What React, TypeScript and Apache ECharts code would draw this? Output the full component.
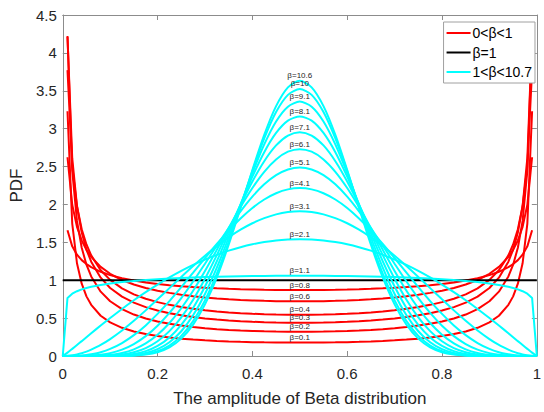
import { useEffect, useRef } from "react";
import * as echarts from "echarts";

// Symmetric Beta(β, β) densities. Each curve is listed on the left half of
// the x range (0 … 0.5); the right half is its mirror image about x = 0.5.
const X_HALF = [
  0, 0.01, 0.02, 0.03, 0.04, 0.05, 0.06, 0.08, 0.1, 0.125, 0.15, 0.175, 0.2,
  0.225, 0.25, 0.275, 0.3, 0.325, 0.35, 0.375, 0.4, 0.425, 0.45, 0.475, 0.5,
];

// 0 < β < 1 (unbounded at the edges, so nothing at x = 0)
const RED_BETAS = ["0.1", "0.2", "0.3", "0.4", "0.6", "0.8"];
const PDF_B01 = [null, 3.23, 1.747, 1.224, 0.954, 0.787, 0.675, 0.531, 0.443, 0.372, 0.324, 0.29, 0.264, 0.244, 0.229, 0.217, 0.207, 0.199, 0.192, 0.187, 0.183, 0.18, 0.178, 0.177, 0.177];
const PDF_B02 = [null, 4.224, 2.446, 1.783, 1.428, 1.205, 1.05, 0.849, 0.722, 0.618, 0.547, 0.495, 0.456, 0.426, 0.402, 0.382, 0.367, 0.354, 0.344, 0.336, 0.33, 0.325, 0.322, 0.32, 0.319];
const PDF_B03 = [null, 4.209, 2.61, 1.979, 1.63, 1.404, 1.245, 1.034, 0.898, 0.783, 0.704, 0.645, 0.6, 0.565, 0.537, 0.515, 0.496, 0.481, 0.469, 0.459, 0.452, 0.446, 0.442, 0.44, 0.439];
const PDF_B04 = [null, 3.773, 2.504, 1.976, 1.673, 1.472, 1.328, 1.132, 1.004, 0.893, 0.814, 0.756, 0.711, 0.675, 0.646, 0.623, 0.604, 0.588, 0.575, 0.565, 0.557, 0.551, 0.547, 0.544, 0.544];
const PDF_B06 = [null, 2.623, 1.996, 1.704, 1.525, 1.401, 1.308, 1.176, 1.085, 1.003, 0.944, 0.898, 0.862, 0.833, 0.809, 0.789, 0.773, 0.76, 0.749, 0.74, 0.733, 0.728, 0.724, 0.722, 0.721];
const PDF_B08 = [null, 1.659, 1.447, 1.337, 1.265, 1.213, 1.172, 1.111, 1.067, 1.026, 0.995, 0.971, 0.951, 0.935, 0.921, 0.91, 0.901, 0.893, 0.886, 0.881, 0.877, 0.874, 0.872, 0.87, 0.87];
const RED_PDF = [PDF_B01, PDF_B02, PDF_B03, PDF_B04, PDF_B06, PDF_B08];

// β = 1 (uniform)
const PDF_B1 = [1, 1, 1, 1, 1, 1, 1, 1, 1, 1, 1, 1, 1, 1, 1, 1, 1, 1, 1, 1, 1, 1, 1, 1, 1];

// 1 < β < 10.7
const CYAN_BETAS = ["1.1", "2.1", "3.1", "4.1", "5.1", "6.1", "7.1", "8.1", "9.1", "10", "10.6"];
const PDF_B1_1 = [0, 0.767, 0.822, 0.855, 0.879, 0.898, 0.913, 0.938, 0.957, 0.976, 0.991, 1.003, 1.014, 1.022, 1.03, 1.036, 1.042, 1.046, 1.05, 1.053, 1.056, 1.057, 1.059, 1.06, 1.06];
const PDF_B2_1 = [0, 0.044, 0.094, 0.145, 0.196, 0.248, 0.3, 0.402, 0.501, 0.621, 0.735, 0.843, 0.943, 1.037, 1.123, 1.202, 1.272, 1.335, 1.39, 1.436, 1.474, 1.503, 1.525, 1.537, 1.541];
const PDF_B3_1 = [0, 0.002, 0.009, 0.021, 0.037, 0.058, 0.084, 0.146, 0.223, 0.336, 0.464, 0.602, 0.748, 0.896, 1.043, 1.187, 1.323, 1.45, 1.566, 1.667, 1.752, 1.819, 1.869, 1.899, 1.909];
const PDF_B4_1 = [0, 0, 0.001, 0.003, 0.007, 0.013, 0.022, 0.05, 0.093, 0.171, 0.275, 0.404, 0.556, 0.725, 0.909, 1.099, 1.291, 1.478, 1.654, 1.814, 1.953, 2.065, 2.148, 2.199, 2.216];
const PDF_B5_1 = [0, 0, 0, 0, 0.001, 0.003, 0.006, 0.017, 0.038, 0.084, 0.157, 0.262, 0.399, 0.568, 0.764, 0.983, 1.217, 1.455, 1.689, 1.908, 2.103, 2.265, 2.386, 2.461, 2.487];
const PDF_B6_1 = [0, 0, 0, 0, 0, 0.001, 0.001, 0.005, 0.015, 0.04, 0.088, 0.166, 0.28, 0.435, 0.63, 0.861, 1.122, 1.402, 1.688, 1.965, 2.217, 2.431, 2.594, 2.696, 2.73];
const PDF_B7_1 = [0, 0, 0, 0, 0, 0, 0, 0.002, 0.006, 0.019, 0.049, 0.104, 0.194, 0.328, 0.511, 0.743, 1.02, 1.331, 1.662, 1.993, 2.303, 2.571, 2.779, 2.909, 2.954];
const PDF_B8_1 = [0, 0, 0, 0, 0, 0, 0, 0.001, 0.002, 0.009, 0.027, 0.064, 0.133, 0.245, 0.41, 0.634, 0.917, 1.25, 1.619, 2.0, 2.367, 2.69, 2.944, 3.107, 3.162];
const PDF_B9_1 = [0, 0, 0, 0, 0, 0, 0, 0, 0.001, 0.004, 0.014, 0.039, 0.09, 0.181, 0.327, 0.537, 0.818, 1.165, 1.564, 1.991, 2.412, 2.792, 3.095, 3.29, 3.357];
const PDF_B10 = [0, 0, 0, 0, 0, 0, 0, 0, 0, 0.002, 0.008, 0.025, 0.063, 0.138, 0.265, 0.46, 0.734, 1.087, 1.508, 1.971, 2.44, 2.871, 3.219, 3.446, 3.524];
const PDF_B10_6 = [0, 0, 0, 0, 0, 0, 0, 0, 0, 0.001, 0.006, 0.019, 0.05, 0.114, 0.229, 0.414, 0.681, 1.036, 1.468, 1.954, 2.454, 2.918, 3.297, 3.545, 3.631];
const CYAN_PDF = [PDF_B1_1, PDF_B2_1, PDF_B3_1, PDF_B4_1, PDF_B5_1, PDF_B6_1, PDF_B7_1, PDF_B8_1, PDF_B9_1, PDF_B10, PDF_B10_6];

const X_TICKS = { min: 0, max: 1, interval: 0.2 };
const Y_TICKS = { min: 0, max: 4.5, interval: 0.5 };

const NAME_LOW = "0<β<1";
const NAME_ONE = "β=1";
const NAME_HIGH = "1<β<10.7";

const FONT = "'Liberation Sans', Arial, Helvetica, sans-serif";
const AXIS_GRAY = "#8c8c8c";
const TEXT = "#262626";

// Left half as listed, then its reflection about x = 0.5.
function symmetricPoints(ys: (number | null)[]): [number, number, boolean][] {
  const pts: [number, number, boolean][] = [];
  const last = X_HALF.length - 1;
  X_HALF.forEach((x, i) => {
    const y = ys[i];
    if (y !== null) pts.push([x, y, i === last]);
  });
  for (let i = last - 1; i >= 0; i--) {
    const y = ys[i];
    if (y !== null) pts.push([+(1 - X_HALF[i]).toFixed(4), y, false]);
  }
  return pts;
}

function curve(
  name: string,
  color: string,
  ys: (number | null)[],
  betaText: string | null,
  smooth: number | false
) {
  const data = symmetricPoints(ys).map(([x, y, isCentre]) =>
    isCentre && betaText
      ? {
          value: [x, y],
          symbol: "circle",
          symbolSize: 0,
          label: {
            show: true,
            position: "top",
            distance: 1,
            formatter: "β=" + betaText,
            fontSize: 8,
            fontFamily: FONT,
            color: TEXT,
          },
        }
      : [x, y]
  );
  return {
    type: "line",
    name,
    data,
    symbol: "none",
    showSymbol: true,
    smooth,
    silent: true,
    lineStyle: { color, width: 2 },
    itemStyle: { color },
  };
}

function axisCommon() {
  return {
    type: "value",
    splitLine: { show: false },
    axisLine: { show: true, onZero: false, lineStyle: { color: AXIS_GRAY, width: 1 } },
    axisTick: { show: true, inside: true, length: 5, lineStyle: { color: AXIS_GRAY } },
  };
}

export default function App() {
  const ref = useRef<HTMLDivElement>(null);

  useEffect(() => {
    if (!ref.current) return;
    const chart = echarts.init(ref.current, undefined, { renderer: "svg" });

    const series: any[] = [];
    RED_PDF.forEach((ys, i) => series.push(curve(NAME_LOW, "#ff0000", ys, RED_BETAS[i], false)));
    series.push(curve(NAME_ONE, "#000000", PDF_B1, null, false));
    CYAN_PDF.forEach((ys, i) =>
      series.push(curve(NAME_HIGH, "#00ffff", ys, CYAN_BETAS[i], i === 0 ? false : 0.25))
    );

    const legendIcon = "rect";

    chart.setOption({
      animation: false,
      backgroundColor: "#ffffff",
      textStyle: { fontFamily: FONT },
      grid: { left: 54, right: 3, top: 15, bottom: 50, containLabel: false },
      legend: {
        data: [
          { name: NAME_LOW, icon: legendIcon },
          { name: NAME_ONE, icon: legendIcon },
          { name: NAME_HIGH, icon: legendIcon },
        ],
        orient: "vertical",
        right: 9,
        top: 22,
        itemWidth: 24,
        itemHeight: 2,
        itemGap: 3.5,
        padding: [3, 3, 3, 3],
        borderColor: "#a0a0a0",
        borderWidth: 1,
        backgroundColor: "#ffffff",
        selectedMode: false,
        textStyle: {
          fontSize: 14,
          lineHeight: 16,
          color: "#000000",
          fontFamily: FONT,
          padding: [0, 0, 0, -3],
        },
      },
      xAxis: [
        {
          ...axisCommon(),
          ...X_TICKS,
          position: "bottom",
          axisLabel: { color: TEXT, fontSize: 15, margin: 10, fontFamily: FONT },
          name: "The amplitude of Beta distribution",
          nameLocation: "middle",
          nameGap: 34,
          nameTextStyle: { color: TEXT, fontSize: 17, fontFamily: FONT },
        },
        {
          ...axisCommon(),
          ...X_TICKS,
          position: "top",
          axisLabel: { show: false },
        },
      ],
      yAxis: [
        {
          ...axisCommon(),
          ...Y_TICKS,
          position: "left",
          axisLabel: { color: TEXT, fontSize: 15, margin: 6, fontFamily: FONT },
          name: "PDF",
          nameLocation: "middle",
          nameGap: 34,
          nameTextStyle: { color: TEXT, fontSize: 17, fontFamily: FONT },
        },
        {
          ...axisCommon(),
          ...Y_TICKS,
          position: "right",
          axisLabel: { show: false },
        },
      ],
      series,
    });

    return () => chart.dispose();
  }, []);

  return (
    <div
      ref={ref}
      style={{ position: "fixed", left: 0, top: 0, width: 544, height: 412 }}
    />
  );
}
